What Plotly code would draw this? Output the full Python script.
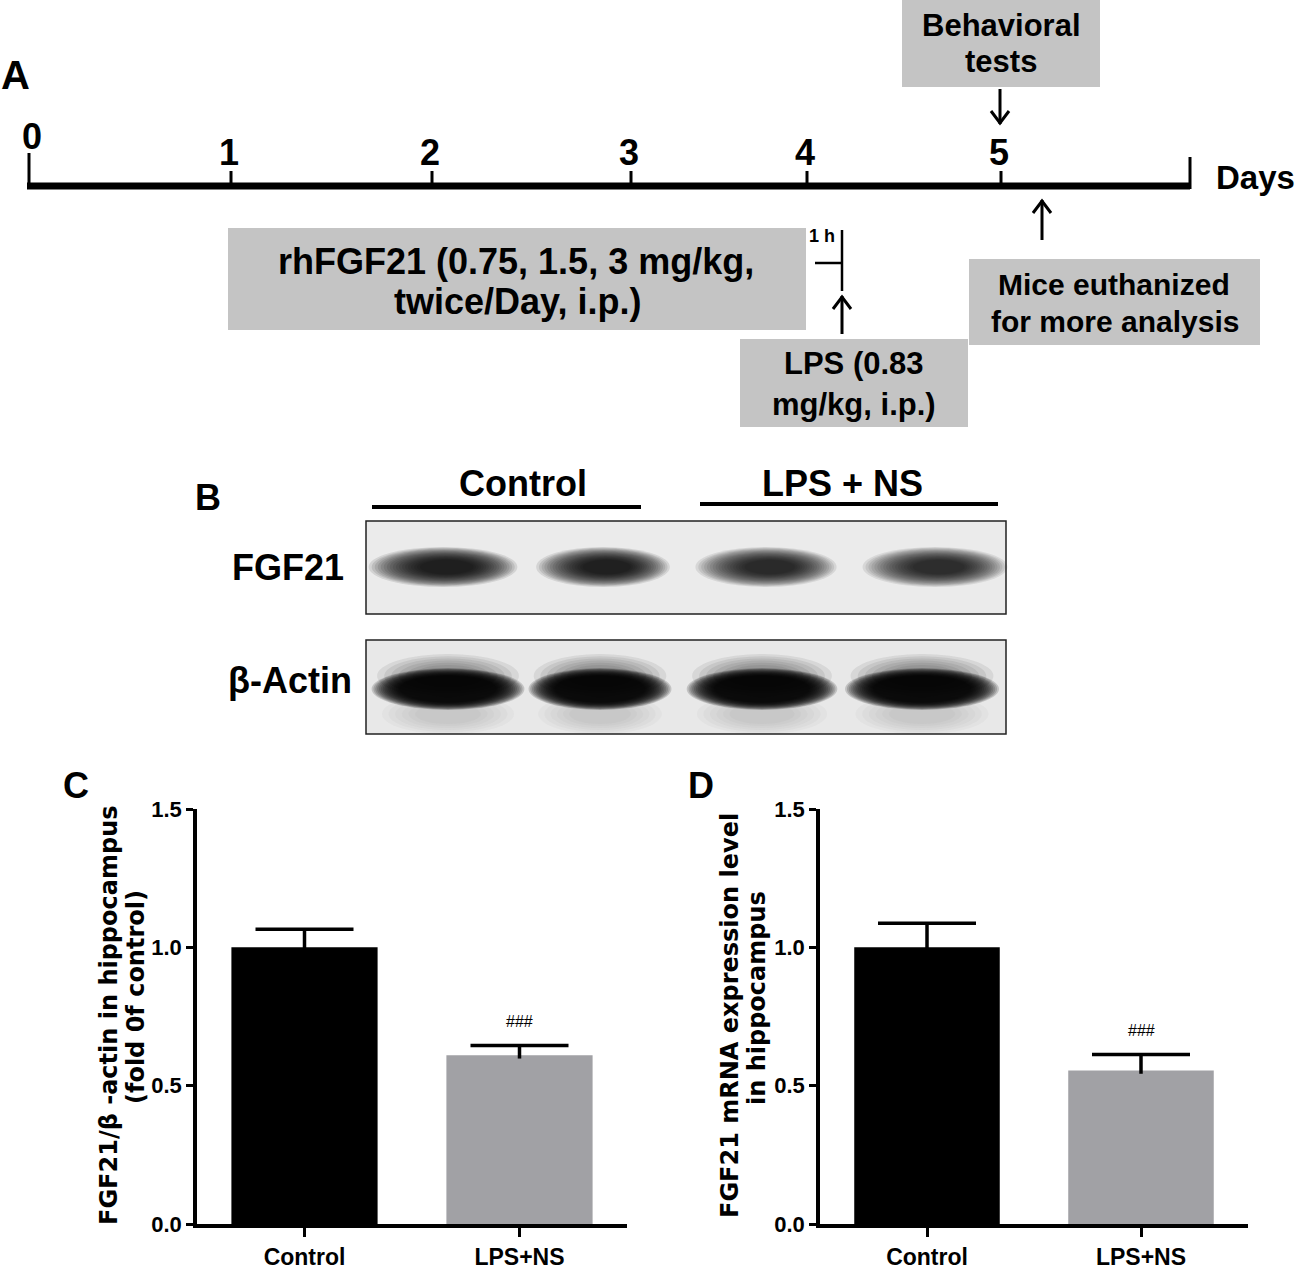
import plotly.graph_objects as go

# ---------------- data ----------------
groups = ["Control", "LPS+NS"]
protein_mean = [1.00, 0.61]          # panel C: FGF21/beta-actin (fold of control)
protein_sem = [0.065, 0.035]
mrna_mean = [1.00, 0.555]            # panel D: FGF21 mRNA expression
mrna_sem = [0.087, 0.058]
sig_marks = ["", "###"]
y_ticks = [0.0, 0.5, 1.0, 1.5]
y_ticklabels = ["0.0", "0.5", "1.0", "1.5"]

timeline_days = [0, 1, 2, 3, 4, 5]
blot_lanes = ["Control", "Control", "LPS + NS", "LPS + NS"]
fgf21_band_intensity = [1.0, 0.97, 0.88, 0.84]
actin_band_intensity = [1.0, 1.0, 1.0, 1.0]

# ---------------- styling / layout positions (pixels) ----------------
W, H = 1299, 1269
def X(p): return p / W
def Y(p): return 1 - p / H

FONT = "Liberation Sans, Arial, sans-serif"
WIDE = "DejaVu Sans, Verdana, sans-serif"
BAR_COLORS = ["#000000", "#a1a1a5"]
BOX_GRAY = "#c4c4c4"

day_px = [29, 231, 432, 631, 807, 1001]
fgf_band_px = [(443, 119), (603, 107), (766, 113), (935, 116)]
actin_band_px = [(448, 139), (600, 130), (762, 137), (922, 140)]

shapes, annos = [], []

def rect(x0, y0, x1, y1, fill, lc=None, lw=0):
    shapes.append(dict(type="rect", xref="paper", yref="paper",
                       x0=X(x0), x1=X(x1), y0=Y(y1), y1=Y(y0),
                       fillcolor=fill, line=dict(width=lw, color=lc or fill)))

def line(x0, y0, x1, y1, w=3, color="black"):
    shapes.append(dict(type="line", xref="paper", yref="paper",
                       x0=X(x0), y0=Y(y0), x1=X(x1), y1=Y(y1),
                       line=dict(color=color, width=w)))

def ellipse(cx, cy, w, h, color, opacity):
    shapes.append(dict(type="circle", xref="paper", yref="paper",
                       x0=X(cx - w / 2), x1=X(cx + w / 2),
                       y0=Y(cy + h / 2), y1=Y(cy - h / 2),
                       fillcolor=color, line=dict(width=0), opacity=opacity))

def text(x, y, s, size, family=FONT, bold=True, angle=0, color="black"):
    annos.append(dict(x=X(x), y=Y(y), xref="paper", yref="paper",
                      text=f"<b>{s}</b>" if bold else s, showarrow=False,
                      font=dict(family=family, size=size, color=color),
                      xanchor="center", yanchor="middle", textangle=angle))

def arrow(x, tail, tip, w=3):
    line(x, tail, x, tip, w)
    d = 1 if tail > tip else -1
    path = (f"M {X(x - 9)},{Y(tip + 13 * d)} L {X(x)},{Y(tip + 1 * d)} "
            f"L {X(x + 9)},{Y(tip + 13 * d)}")
    shapes.append(dict(type="path", xref="paper", yref="paper", path=path,
                       line=dict(color="black", width=w)))

# ---------------- Panel A: timeline ----------------
text(16, 75, "A", 40)
line(27, 186, 1190, 186, w=7)
for d, px in zip(timeline_days, day_px):
    if d == 0:
        line(px, 153, px, 189, 3)
        text(px + 3, 136, str(d), 36)
    else:
        line(px, 171, px, 186, 3)
        text(px - 2, 153, str(d), 36)
line(1190, 157, 1190, 189, 3)
text(1255, 178, "Days", 33)

rect(902, 0, 1100, 87, BOX_GRAY)
text(1001, 25, "Behavioral", 31)
text(1001, 62, "tests", 31)
arrow(1000, 89, 124)

rect(228, 228, 806, 330, BOX_GRAY)
text(516, 262, "rhFGF21 (0.75, 1.5, 3 mg/kg,", 36)
text(517, 301, "twice/Day, i.p.)", 36)

text(822, 236, "1 h", 18)
line(842, 230, 842, 291, 2.5)
line(815, 263, 842, 263, 2.5)
arrow(842, 334, 296)

rect(740, 339, 968, 427, BOX_GRAY)
text(854, 364, "LPS (0.83", 31)
text(854, 404, "mg/kg, i.p.)", 31)

rect(969, 259, 1260, 345, BOX_GRAY)
text(1114, 284, "Mice euthanized", 30)
text(1115, 321, "for more analysis", 30)
arrow(1042, 240, 200)

# ---------------- Panel B: western blot ----------------
text(208, 497, "B", 36)
text(523, 483, "Control", 36)
line(372, 507, 641, 507, 4)
text(843, 483, "LPS + NS", 36)
line(700, 504, 998, 504, 4)
text(288, 567, "FGF21", 36)
text(290, 680, "β-Actin", 36)

# FGF21 blot
rect(366, 521, 1006, 614, "#ebebeb")
for (cx, w), inten in zip(fgf_band_px, fgf21_band_intensity):
    cy = 567
    n = 18
    for i in range(n):
        s = 1.25 - 0.8 * i / (n - 1)
        ellipse(cx + 4 * i / n, cy, w * s, 32 * s, "black", 0.1 * inten)
rect(366, 521, 1006, 614, "rgba(0,0,0,0)", lc="#222222", lw=1.5)

# beta-actin blot
rect(366, 640, 1006, 734, "#e8e8e8")
for (cx, w), inten in zip(actin_band_px, actin_band_intensity):
    for i in range(6):   # faint smear below
        s = 1.0 - 0.1 * i
        ellipse(cx, 714, w * 0.95 * s, 40 * s, "#808080", 0.06 * inten)
    for i in range(6):   # halo above
        s = 1.0 - 0.1 * i
        ellipse(cx, 676, w * 1.02 * s, 44 * s, "#303030", 0.09 * inten)
    n = 16
    for i in range(n):
        s = 1.1 - 0.4 * i / (n - 1)
        ellipse(cx, 689, w * s, 38 * s, "black", 0.16 * inten)
rect(366, 640, 1006, 734, "rgba(0,0,0,0)", lc="#222222", lw=1.5)

# ---------------- Panels C & D: bar charts ----------------
fig = go.Figure()
for vals, errs, xa, ya in [(protein_mean, protein_sem, "x", "y"),
                           (mrna_mean, mrna_sem, "x2", "y2")]:
    fig.add_trace(go.Bar(
        x=groups, y=vals, width=0.68, xaxis=xa, yaxis=ya,
        marker=dict(color=BAR_COLORS, line=dict(width=0)),
        showlegend=False, hoverinfo="skip"))
    # upper-only SEM error bars: stem + cap
    sx, sy = [], []
    for g, v, e in zip(groups, vals, errs):
        sx += [g, g, None]
        sy += [v - 0.012, v + e, None]
    fig.add_trace(go.Scatter(x=sx, y=sy, xaxis=xa, yaxis=ya, mode="lines",
                             line=dict(color="black", width=3.5),
                             showlegend=False, hoverinfo="skip"))
    fig.add_trace(go.Scatter(x=groups, y=[v + e for v, e in zip(vals, errs)],
                             xaxis=xa, yaxis=ya, mode="markers",
                             marker=dict(symbol="line-ew", size=70,
                                         line=dict(color="black", width=3.5)),
                             showlegend=False, hoverinfo="skip"))
    for g, v, e, m in zip(groups, vals, errs, sig_marks):
        if m:
            annos.append(dict(x=g, y=v + e, xref=xa, yref=ya, text=m, showarrow=False,
                              yshift=24, font=dict(family=FONT, size=16, color="black"),
                              xanchor="center", yanchor="middle"))

text(76, 785, "C", 36)
text(701, 785, "D", 36)
text(109, 1015, "FGF21/β -actin in hippocampus", 24, family=WIDE, angle=-90)
text(136, 997, "(fold 0f control)", 24, family=WIDE, angle=-90)
text(730, 1016, "FGF21 mRNA expression level", 24, family=WIDE, angle=-90)
text(757, 998, "in hippocampus", 24, family=WIDE, angle=-90)

def xax(x0, x1, anchor):
    return dict(domain=[X(x0), X(x1)], anchor=anchor, range=[-0.5, 1.5],
                showline=True, linewidth=4, linecolor="black", mirror=False,
                ticks="outside", ticklen=9, tickwidth=3, tickcolor="black",
                tickmode="array", tickvals=groups,
                ticktext=[f"<b>{g}</b>" for g in groups],
                tickfont=dict(family=FONT, size=23, color="black"),
                showgrid=False, zeroline=False, automargin=False, fixedrange=True)

def yax(anchor):
    return dict(domain=[Y(1224), Y(809)], anchor=anchor, range=[0, 1.5],
                showline=True, linewidth=3.5, linecolor="black",
                ticks="outside", ticklen=7, tickwidth=3, tickcolor="black",
                tickmode="array", tickvals=y_ticks,
                ticktext=[f"<b>{t}</b>" for t in y_ticklabels],
                tickfont=dict(family=FONT, size=22, color="black"),
                showgrid=False, zeroline=False, automargin=False, fixedrange=True)

fig.update_layout(
    width=W, height=H, margin=dict(l=0, r=0, t=0, b=0),
    paper_bgcolor="white", plot_bgcolor="white",
    xaxis=xax(197, 627, "y"), yaxis=yax("x"),
    xaxis2=xax(820, 1248, "y2"), yaxis2=yax("x2"),
    shapes=shapes, annotations=annos,
)

fig.write_html("out.html", config={"displayModeBar": False},
               post_script="document.body.style.margin='0';document.body.style.padding='0';document.body.style.overflow='hidden';")
